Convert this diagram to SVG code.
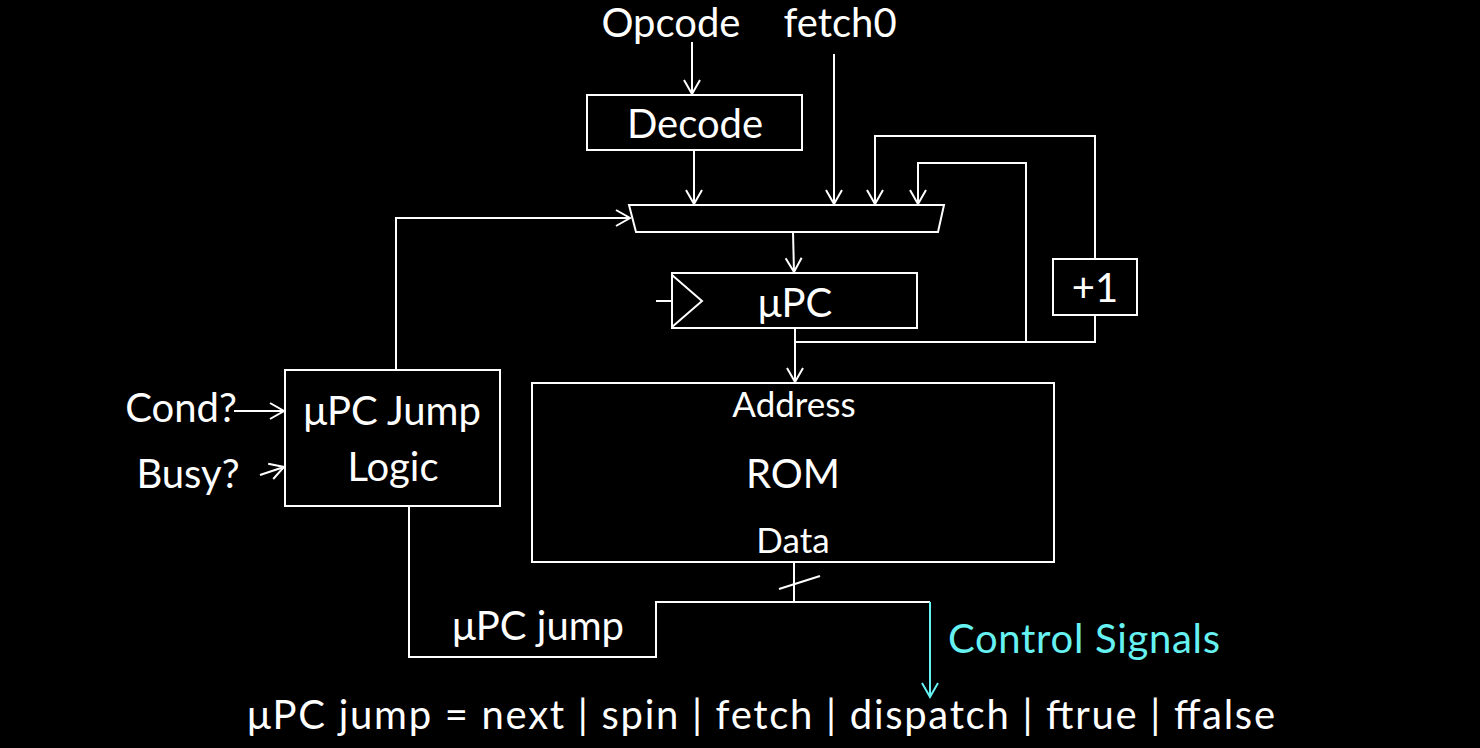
<svg xmlns="http://www.w3.org/2000/svg" width="1480" height="748" viewBox="0 0 1480 748">
<defs>
<style>
.t{font-family:Lato,"Open Sans","Liberation Sans",sans-serif;fill:#ffffff;font-size:40px;text-anchor:middle}
.s{font-size:35px}
.c{fill:#66f2f2;text-anchor:start}
.box{fill:none;stroke:#ffffff;stroke-width:2}
.w{fill:none;stroke:#ffffff;stroke-width:2}
.cy{fill:none;stroke:#66f2f2;stroke-width:2}
</style>
<marker id="ah" viewBox="-16 -10 18 20" refX="0" refY="0" markerWidth="18" markerHeight="20" markerUnits="userSpaceOnUse" orient="auto">
<path d="M-14,-8 L0,0 L-14,8" fill="none" stroke="#ffffff" stroke-width="2"/>
</marker>
<marker id="ahc" viewBox="-16 -10 18 20" refX="0" refY="0" markerWidth="18" markerHeight="20" markerUnits="userSpaceOnUse" orient="auto">
<path d="M-14,-8 L0,0 L-14,8" fill="none" stroke="#66f2f2" stroke-width="2"/>
</marker>
</defs>
<rect x="0" y="0" width="1480" height="748" fill="#000000"/>

<g id="labels">
<text class="t" x="671" y="37">Opcode</text>
<text class="t" x="840" y="37">fetch0</text>
<text class="t" x="181" y="422">Cond?</text>
<text class="t" x="188" y="488">Busy?</text>
<text class="t" x="538" y="640">μPC jump</text>
<text class="t c" x="948" y="653" textLength="272">Control Signals</text>
<text class="t" x="761" y="729" textLength="1028">μPC jump = next | spin | fetch | dispatch | ftrue | ffalse</text>
</g>

<g id="decode">
<rect class="box" x="587" y="95" width="215" height="55"/>
<text class="t" x="695" y="138">Decode</text>
</g>

<g id="mux">
<polygon class="box" points="629,205 944,205 938,232 636,232"/>
</g>

<g id="upc">
<rect class="box" x="672" y="273" width="245" height="55"/>
<polyline class="w" points="672,275 702,301 672,327"/>
<text class="t" x="795" y="317">μPC</text>
</g>

<g id="plus1">
<rect class="box" x="1053" y="259" width="84" height="56"/>
<text class="t" x="1095" y="302">+1</text>
</g>

<g id="jumplogic">
<rect class="box" x="285" y="370" width="215" height="136"/>
<text class="t" x="392" y="425">μPC Jump</text>
<text class="t" x="393" y="481">Logic</text>
</g>

<g id="rom">
<rect class="box" x="532" y="383" width="522" height="179"/>
<text class="t s" x="794" y="417">Address</text>
<text class="t" x="793" y="488">ROM</text>
<text class="t s" x="793" y="553">Data</text>
</g>

<g id="connectors">
<line class="w" x1="692" y1="42" x2="692" y2="94" marker-end="url(#ah)"/>
<line class="w" x1="694" y1="150" x2="694" y2="204" marker-end="url(#ah)"/>
<line class="w" x1="834" y1="54" x2="834" y2="204" marker-end="url(#ah)"/>
<polyline class="w" points="1095,259 1095,136 875,136 875,204" marker-end="url(#ah)"/>
<polyline class="w" points="1026,342 1026,163 918,163 918,204" marker-end="url(#ah)"/>
<line class="w" x1="793" y1="232" x2="794" y2="272" marker-end="url(#ah)"/>
<line class="w" x1="795" y1="328" x2="795" y2="382" marker-end="url(#ah)"/>
<polyline class="w" points="795,342 1095,342 1095,315"/>
<line class="w" x1="656" y1="301" x2="672" y2="301"/>
<polyline class="w" points="396,370 396,218 630,218" marker-end="url(#ah)"/>
<line class="w" x1="234" y1="411" x2="284" y2="411" marker-end="url(#ah)"/>
<line class="w" x1="260" y1="475" x2="284" y2="467" marker-end="url(#ah)"/>
<line class="w" x1="794" y1="562" x2="794" y2="602"/>
<line class="w" x1="779" y1="589" x2="820" y2="576"/>
<polyline class="w" points="409,506 409,657 656,657 656,602 930,602"/>
<line class="cy" x1="930" y1="602" x2="930" y2="697" marker-end="url(#ahc)"/>
</g>
</svg>
